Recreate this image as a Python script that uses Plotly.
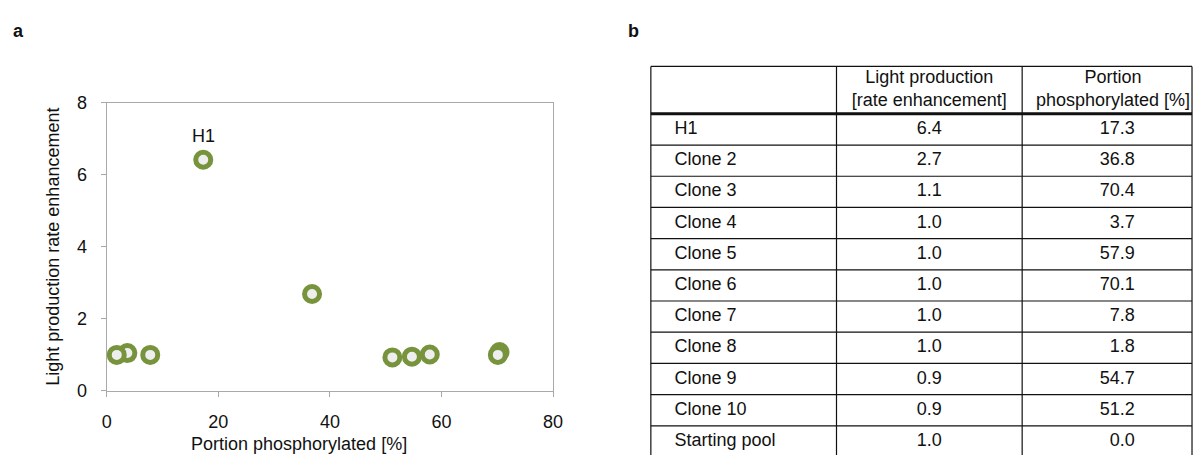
import plotly.graph_objects as go

# ---- data ----
names = ["H1", "Clone 2", "Clone 3", "Clone 4", "Clone 5", "Clone 6",
         "Clone 7", "Clone 8", "Clone 9", "Clone 10", "Starting pool"]
light_table = ["6.4", "2.7", "1.1", "1.0", "1.0", "1.0", "1.0", "1.0", "0.9", "0.9", "1.0"]
phos_table = ["17.3", "36.8", "70.4", "3.7", "57.9", "70.1", "7.8", "1.8", "54.7", "51.2", "0.0"]
header = ["", "Light production<br>[rate enhancement]", "Portion<br>phosphorylated [%]"]

# values as plotted in panel a
plot_names = ["H1", "Clone 2", "Clone 3", "Clone 4", "Clone 5", "Clone 6",
              "Clone 7", "Clone 8", "Clone 9", "Clone 10"]
plot_x = [17.3, 36.8, 70.4, 3.7, 57.9, 70.1, 7.8, 1.8, 54.7, 51.2]
plot_y = [6.42, 2.69, 1.08, 1.05, 1.01, 1.00, 1.00, 1.00, 0.95, 0.93]

x_ticks = [0, 20, 40, 60, 80]
y_ticks = [0, 2, 4, 6, 8]

# ---- style / layout constants ----
W, H = 1203, 465
FONT = "Liberation Sans, Arial, Helvetica, sans-serif"
INK = "#111111"
GREEN = "#77933c"
AXIS = "#a9a9a9"


def fx(p):  # pixel x -> paper
    return p / W


def fy(p):  # pixel y -> paper
    return 1 - p / H


pl, pr, pt, pb = 103, 555, 97, 398          # scatter plot area (px)

# table geometry (px, relative to the table's top-left corner)
t_left, t_top = 654, 59
col_edges = [0, 188, 376, 548]
header_h = 49.5
row_h = 32.6
pad = 2

fig = go.Figure()

# ---- panel a: scatter ----
fig.add_trace(go.Scatter(
    x=plot_x, y=plot_y, mode="markers", text=plot_names, hoverinfo="text+x+y",
    marker=dict(size=15, color="#eeeeee", line=dict(color=GREEN, width=5)),
    showlegend=False, cliponaxis=False, xaxis="x", yaxis="y",
))

# ---- panel b: table drawn on its own pixel-unit axes ----
n = len(names)
row_mid = [header_h + (i + 0.5) * row_h for i in range(n)]
cell_font = dict(family=FONT, size=18, color=INK)
fig.add_trace(go.Scatter(
    x=[24] * n, y=row_mid, text=names, mode="text", textposition="middle right",
    textfont=cell_font, showlegend=False, cliponaxis=True, hoverinfo="skip",
    xaxis="x2", yaxis="y2",
))
fig.add_trace(go.Scatter(
    x=[282] * n, y=row_mid, text=light_table, mode="text", textposition="middle center",
    textfont=cell_font, showlegend=False, cliponaxis=True, hoverinfo="skip",
    xaxis="x2", yaxis="y2",
))
fig.add_trace(go.Scatter(
    x=[490] * n, y=row_mid, text=phos_table, mode="text", textposition="middle left",
    textfont=cell_font, showlegend=False, cliponaxis=True, hoverinfo="skip",
    xaxis="x2", yaxis="y2",
))
fig.add_trace(go.Scatter(
    x=[282, 468], y=[header_h / 2, header_h / 2], text=header[1:], mode="text",
    textposition="middle center", textfont=cell_font,
    showlegend=False, cliponaxis=False, hoverinfo="skip", xaxis="x2", yaxis="y2",
))

table_bottom = H - t_top
shapes = []
shapes.append(dict(type="line", xref="x2", yref="y2", x0=col_edges[0], x1=col_edges[-1],
                   y0=0, y1=0, line=dict(color=INK, width=1.2)))
shapes.append(dict(type="line", xref="x2", yref="y2", x0=col_edges[0], x1=col_edges[-1],
                   y0=header_h, y1=header_h, line=dict(color=INK, width=3)))
for i in range(1, n):
    yb = header_h + i * row_h
    shapes.append(dict(type="line", xref="x2", yref="y2", x0=col_edges[0], x1=col_edges[-1],
                       y0=yb, y1=yb, line=dict(color=INK, width=1.2)))
for xe in col_edges:
    shapes.append(dict(type="line", xref="x2", yref="y2", x0=xe, x1=xe,
                       y0=0, y1=table_bottom + pad, line=dict(color=INK, width=1.2)))

axis_common = dict(showgrid=False, zeroline=False, showline=True, linecolor=AXIS,
                   linewidth=1.3, mirror=True, ticks="outside", ticklen=5,
                   tickcolor=AXIS, tickwidth=1.3, fixedrange=True,
                   tickfont=dict(family=FONT, size=18, color=INK))

fig.update_layout(
    width=W, height=H,
    margin=dict(l=0, r=0, t=0, b=0),
    paper_bgcolor="white", plot_bgcolor="white",
    font=dict(family=FONT, size=18, color=INK),
    xaxis=dict(domain=[fx(pl), fx(pr)], range=[0, 80], tickvals=x_ticks,
               anchor="y", ticklabelstandoff=9, **axis_common),
    yaxis=dict(domain=[fy(pb), fy(pt)], range=[0, 8], tickvals=y_ticks,
               anchor="x", ticklabelstandoff=10, **axis_common),
    xaxis2=dict(domain=[fx(t_left - pad), 1], range=[-pad, W - t_left],
                visible=False, fixedrange=True, anchor="y2"),
    yaxis2=dict(domain=[0, fy(t_top - pad)], range=[table_bottom, -pad],
                visible=False, fixedrange=True, anchor="x2"),
    shapes=shapes,
    annotations=[
        dict(x=plot_x[0], y=plot_y[0], xref="x", yref="y", text=plot_names[0],
             showarrow=False, yshift=24, font=dict(size=18)),
        dict(x=fx(298), y=fy(453), xref="paper", yref="paper",
             text="Portion phosphorylated [%]", showarrow=False,
             font=dict(size=18), xanchor="center", yanchor="middle"),
        dict(x=fx(49), y=fy(247), xref="paper", yref="paper",
             text="Light production rate enhancement", showarrow=False, textangle=-90,
             font=dict(size=18), xanchor="center", yanchor="middle"),
        dict(x=fx(14), y=fy(22), xref="paper", yref="paper", text="<b>a</b>",
             showarrow=False, font=dict(size=18), xanchor="center", yanchor="middle"),
        dict(x=fx(636), y=fy(22), xref="paper", yref="paper", text="<b>b</b>",
             showarrow=False, font=dict(size=18), xanchor="center", yanchor="middle"),
    ],
)

fig.write_html("out.html")
